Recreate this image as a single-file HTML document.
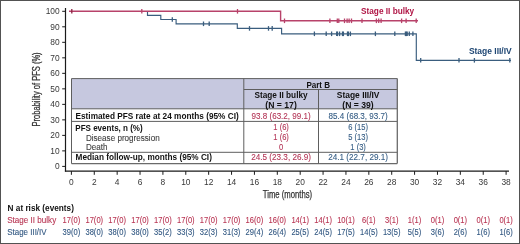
<!DOCTYPE html>
<html><head><meta charset="utf-8"><style>
html,body{margin:0;padding:0;background:#fff;}
body{width:520px;height:244px;overflow:hidden;}
svg{display:block;will-change:transform;}
text{font-family:"Liberation Sans",sans-serif;}
.tk{font-size:8.4px;fill:#383838;}
.lb{font-size:8.6px;font-weight:bold;}
.tb{font-size:8.5px;font-weight:bold;fill:#111;}
.tr{font-size:8.4px;fill:#222;}
.ax{font-size:10px;fill:#333;stroke:#333;stroke-width:0.25px;}
.rb{font-size:8.6px;font-weight:bold;fill:#111;}
.rr{font-size:8.4px;fill:#222;}
</style></head><body>
<svg width="520" height="244" viewBox="0 0 520 244">
<rect x="0.5" y="0.5" width="519" height="243" fill="none" stroke="#525252" stroke-width="1"/>
<rect x="71.5" y="78.6" width="325.8" height="30.200000000000003" fill="#c6c8df"/>
<line x1="71.5" y1="78.6" x2="397.3" y2="78.6" stroke="#5e5e5e" stroke-width="1"/>
<line x1="243.8" y1="89.5" x2="397.3" y2="89.5" stroke="#5e5e5e" stroke-width="1"/>
<line x1="71.5" y1="108.8" x2="397.3" y2="108.8" stroke="#5e5e5e" stroke-width="1"/>
<line x1="71.5" y1="121.4" x2="397.3" y2="121.4" stroke="#5e5e5e" stroke-width="1"/>
<line x1="71.5" y1="152.3" x2="397.3" y2="152.3" stroke="#5e5e5e" stroke-width="1"/>
<line x1="71.5" y1="163.6" x2="397.3" y2="163.6" stroke="#6a6a6a" stroke-width="1.3"/>
<line x1="71.5" y1="78.6" x2="71.5" y2="163.6" stroke="#5e5e5e" stroke-width="1"/>
<line x1="397.3" y1="78.6" x2="397.3" y2="163.6" stroke="#6a6a6a" stroke-width="1.3"/>
<line x1="243.8" y1="78.6" x2="243.8" y2="163.6" stroke="#5e5e5e" stroke-width="1"/>
<line x1="318.5" y1="89.5" x2="318.5" y2="163.6" stroke="#5e5e5e" stroke-width="1"/>
<line x1="65.5" y1="8" x2="65.5" y2="171.6" stroke="#1a1a1a" stroke-width="1.2"/>
<line x1="64.9" y1="171.1" x2="509" y2="171.1" stroke="#1a1a1a" stroke-width="1.2"/>
<line x1="62.2" y1="166.40" x2="65.5" y2="166.40" stroke="#1a1a1a" stroke-width="1"/>
<text x="59.7" y="169.30" text-anchor="end" class="tk">0</text>
<line x1="62.2" y1="150.89" x2="65.5" y2="150.89" stroke="#1a1a1a" stroke-width="1"/>
<text x="59.7" y="153.79" text-anchor="end" class="tk">10</text>
<line x1="62.2" y1="135.38" x2="65.5" y2="135.38" stroke="#1a1a1a" stroke-width="1"/>
<text x="59.7" y="138.28" text-anchor="end" class="tk">20</text>
<line x1="62.2" y1="119.87" x2="65.5" y2="119.87" stroke="#1a1a1a" stroke-width="1"/>
<text x="59.7" y="122.77" text-anchor="end" class="tk">30</text>
<line x1="62.2" y1="104.36" x2="65.5" y2="104.36" stroke="#1a1a1a" stroke-width="1"/>
<text x="59.7" y="107.26" text-anchor="end" class="tk">40</text>
<line x1="62.2" y1="88.85" x2="65.5" y2="88.85" stroke="#1a1a1a" stroke-width="1"/>
<text x="59.7" y="91.75" text-anchor="end" class="tk">50</text>
<line x1="62.2" y1="73.34" x2="65.5" y2="73.34" stroke="#1a1a1a" stroke-width="1"/>
<text x="59.7" y="76.24" text-anchor="end" class="tk">60</text>
<line x1="62.2" y1="57.83" x2="65.5" y2="57.83" stroke="#1a1a1a" stroke-width="1"/>
<text x="59.7" y="60.73" text-anchor="end" class="tk">70</text>
<line x1="62.2" y1="42.32" x2="65.5" y2="42.32" stroke="#1a1a1a" stroke-width="1"/>
<text x="59.7" y="45.22" text-anchor="end" class="tk">80</text>
<line x1="62.2" y1="26.81" x2="65.5" y2="26.81" stroke="#1a1a1a" stroke-width="1"/>
<text x="59.7" y="29.71" text-anchor="end" class="tk">90</text>
<line x1="62.2" y1="11.30" x2="65.5" y2="11.30" stroke="#1a1a1a" stroke-width="1"/>
<text x="59.7" y="14.20" text-anchor="end" class="tk">100</text>
<line x1="71.40" y1="171.1" x2="71.40" y2="174.8" stroke="#1a1a1a" stroke-width="1"/>
<text x="71.40" y="184.9" text-anchor="middle" class="tk">0</text>
<line x1="94.28" y1="171.1" x2="94.28" y2="174.8" stroke="#1a1a1a" stroke-width="1"/>
<text x="94.28" y="184.9" text-anchor="middle" class="tk">2</text>
<line x1="117.16" y1="171.1" x2="117.16" y2="174.8" stroke="#1a1a1a" stroke-width="1"/>
<text x="117.16" y="184.9" text-anchor="middle" class="tk">4</text>
<line x1="140.04" y1="171.1" x2="140.04" y2="174.8" stroke="#1a1a1a" stroke-width="1"/>
<text x="140.04" y="184.9" text-anchor="middle" class="tk">6</text>
<line x1="162.92" y1="171.1" x2="162.92" y2="174.8" stroke="#1a1a1a" stroke-width="1"/>
<text x="162.92" y="184.9" text-anchor="middle" class="tk">8</text>
<line x1="185.79" y1="171.1" x2="185.79" y2="174.8" stroke="#1a1a1a" stroke-width="1"/>
<text x="185.79" y="184.9" text-anchor="middle" class="tk">10</text>
<line x1="208.67" y1="171.1" x2="208.67" y2="174.8" stroke="#1a1a1a" stroke-width="1"/>
<text x="208.67" y="184.9" text-anchor="middle" class="tk">12</text>
<line x1="231.55" y1="171.1" x2="231.55" y2="174.8" stroke="#1a1a1a" stroke-width="1"/>
<text x="231.55" y="184.9" text-anchor="middle" class="tk">14</text>
<line x1="254.43" y1="171.1" x2="254.43" y2="174.8" stroke="#1a1a1a" stroke-width="1"/>
<text x="254.43" y="184.9" text-anchor="middle" class="tk">16</text>
<line x1="277.31" y1="171.1" x2="277.31" y2="174.8" stroke="#1a1a1a" stroke-width="1"/>
<text x="277.31" y="184.9" text-anchor="middle" class="tk">18</text>
<line x1="300.19" y1="171.1" x2="300.19" y2="174.8" stroke="#1a1a1a" stroke-width="1"/>
<text x="300.19" y="184.9" text-anchor="middle" class="tk">20</text>
<line x1="323.07" y1="171.1" x2="323.07" y2="174.8" stroke="#1a1a1a" stroke-width="1"/>
<text x="323.07" y="184.9" text-anchor="middle" class="tk">22</text>
<line x1="345.95" y1="171.1" x2="345.95" y2="174.8" stroke="#1a1a1a" stroke-width="1"/>
<text x="345.95" y="184.9" text-anchor="middle" class="tk">24</text>
<line x1="368.83" y1="171.1" x2="368.83" y2="174.8" stroke="#1a1a1a" stroke-width="1"/>
<text x="368.83" y="184.9" text-anchor="middle" class="tk">26</text>
<line x1="391.71" y1="171.1" x2="391.71" y2="174.8" stroke="#1a1a1a" stroke-width="1"/>
<text x="391.71" y="184.9" text-anchor="middle" class="tk">28</text>
<line x1="414.58" y1="171.1" x2="414.58" y2="174.8" stroke="#1a1a1a" stroke-width="1"/>
<text x="414.58" y="184.9" text-anchor="middle" class="tk">30</text>
<line x1="437.46" y1="171.1" x2="437.46" y2="174.8" stroke="#1a1a1a" stroke-width="1"/>
<text x="437.46" y="184.9" text-anchor="middle" class="tk">32</text>
<line x1="460.34" y1="171.1" x2="460.34" y2="174.8" stroke="#1a1a1a" stroke-width="1"/>
<text x="460.34" y="184.9" text-anchor="middle" class="tk">34</text>
<line x1="483.22" y1="171.1" x2="483.22" y2="174.8" stroke="#1a1a1a" stroke-width="1"/>
<text x="483.22" y="184.9" text-anchor="middle" class="tk">36</text>
<line x1="506.10" y1="171.1" x2="506.10" y2="174.8" stroke="#1a1a1a" stroke-width="1"/>
<text x="506.10" y="184.9" text-anchor="middle" class="tk">38</text>
<path d="M147.5 11.2 V15.4 H160.8 V19.5 H176.1 V23.8 H237.3 V28.4 H281.6 V33.8 H416.3 V60.3 H511" fill="none" stroke="#3a5d7e" stroke-width="1.15"/>
<line x1="172.3" y1="17.20" x2="172.3" y2="21.80" stroke="#3a5d7e" stroke-width="1.3"/>
<line x1="203.5" y1="21.50" x2="203.5" y2="26.10" stroke="#3a5d7e" stroke-width="1.3"/>
<line x1="209.2" y1="21.50" x2="209.2" y2="26.10" stroke="#3a5d7e" stroke-width="1.3"/>
<line x1="249.5" y1="26.10" x2="249.5" y2="30.70" stroke="#3a5d7e" stroke-width="1.3"/>
<line x1="268.5" y1="26.10" x2="268.5" y2="30.70" stroke="#3a5d7e" stroke-width="1.3"/>
<line x1="272.2" y1="26.10" x2="272.2" y2="30.70" stroke="#3a5d7e" stroke-width="1.3"/>
<line x1="314.4" y1="31.50" x2="314.4" y2="36.10" stroke="#3a5d7e" stroke-width="1.3"/>
<line x1="326.2" y1="31.50" x2="326.2" y2="36.10" stroke="#3a5d7e" stroke-width="1.3"/>
<line x1="331.6" y1="31.50" x2="331.6" y2="36.10" stroke="#3a5d7e" stroke-width="1.3"/>
<line x1="336.7" y1="31.50" x2="336.7" y2="36.10" stroke="#3a5d7e" stroke-width="1.3"/>
<line x1="337.5" y1="31.50" x2="337.5" y2="36.10" stroke="#3a5d7e" stroke-width="1.3"/>
<line x1="339.6" y1="31.50" x2="339.6" y2="36.10" stroke="#3a5d7e" stroke-width="1.3"/>
<line x1="342.5" y1="31.50" x2="342.5" y2="36.10" stroke="#3a5d7e" stroke-width="1.3"/>
<line x1="343.4" y1="31.50" x2="343.4" y2="36.10" stroke="#3a5d7e" stroke-width="1.3"/>
<line x1="347.5" y1="31.50" x2="347.5" y2="36.10" stroke="#3a5d7e" stroke-width="1.3"/>
<line x1="348.4" y1="31.50" x2="348.4" y2="36.10" stroke="#3a5d7e" stroke-width="1.3"/>
<line x1="350.4" y1="31.50" x2="350.4" y2="36.10" stroke="#3a5d7e" stroke-width="1.3"/>
<line x1="375.4" y1="31.50" x2="375.4" y2="36.10" stroke="#3a5d7e" stroke-width="1.3"/>
<line x1="394.8" y1="31.50" x2="394.8" y2="36.10" stroke="#3a5d7e" stroke-width="1.3"/>
<line x1="405.4" y1="31.50" x2="405.4" y2="36.10" stroke="#3a5d7e" stroke-width="1.3"/>
<line x1="406.4" y1="31.50" x2="406.4" y2="36.10" stroke="#3a5d7e" stroke-width="1.3"/>
<line x1="407.2" y1="31.50" x2="407.2" y2="36.10" stroke="#3a5d7e" stroke-width="1.3"/>
<line x1="409.3" y1="31.50" x2="409.3" y2="36.10" stroke="#3a5d7e" stroke-width="1.3"/>
<line x1="412.9" y1="31.50" x2="412.9" y2="36.10" stroke="#3a5d7e" stroke-width="1.3"/>
<line x1="420.7" y1="58.00" x2="420.7" y2="62.60" stroke="#3a5d7e" stroke-width="1.3"/>
<line x1="459" y1="58.00" x2="459" y2="62.60" stroke="#3a5d7e" stroke-width="1.3"/>
<line x1="474.4" y1="58.00" x2="474.4" y2="62.60" stroke="#3a5d7e" stroke-width="1.3"/>
<line x1="509.8" y1="58.00" x2="509.8" y2="62.60" stroke="#3a5d7e" stroke-width="1.3"/>
<path d="M69 11.3 H280.6 V20.8 H418" fill="none" stroke="#b8426a" stroke-width="1.4"/>
<line x1="71.8" y1="9.00" x2="71.8" y2="13.60" stroke="#8a2040" stroke-width="1.3"/>
<line x1="141.8" y1="9.00" x2="141.8" y2="13.60" stroke="#b8426a" stroke-width="1.3"/>
<line x1="237.5" y1="9.00" x2="237.5" y2="13.60" stroke="#b8426a" stroke-width="1.3"/>
<line x1="284.5" y1="18.50" x2="284.5" y2="23.10" stroke="#b8426a" stroke-width="1.3"/>
<line x1="329.9" y1="18.50" x2="329.9" y2="23.10" stroke="#b8426a" stroke-width="1.3"/>
<line x1="337.3" y1="18.50" x2="337.3" y2="23.10" stroke="#b8426a" stroke-width="1.3"/>
<line x1="338.8" y1="18.50" x2="338.8" y2="23.10" stroke="#b8426a" stroke-width="1.3"/>
<line x1="344.5" y1="18.50" x2="344.5" y2="23.10" stroke="#b8426a" stroke-width="1.3"/>
<line x1="347.1" y1="18.50" x2="347.1" y2="23.10" stroke="#b8426a" stroke-width="1.3"/>
<line x1="349.1" y1="18.50" x2="349.1" y2="23.10" stroke="#b8426a" stroke-width="1.3"/>
<line x1="351.5" y1="18.50" x2="351.5" y2="23.10" stroke="#b8426a" stroke-width="1.3"/>
<line x1="362" y1="18.50" x2="362" y2="23.10" stroke="#b8426a" stroke-width="1.3"/>
<line x1="376.4" y1="18.50" x2="376.4" y2="23.10" stroke="#b8426a" stroke-width="1.3"/>
<line x1="378.7" y1="18.50" x2="378.7" y2="23.10" stroke="#b8426a" stroke-width="1.3"/>
<line x1="381.1" y1="18.50" x2="381.1" y2="23.10" stroke="#b8426a" stroke-width="1.3"/>
<line x1="401.6" y1="18.50" x2="401.6" y2="23.10" stroke="#b8426a" stroke-width="1.3"/>
<line x1="406.1" y1="18.50" x2="406.1" y2="23.10" stroke="#b8426a" stroke-width="1.3"/>
<line x1="416.2" y1="18.50" x2="416.2" y2="23.10" stroke="#b8426a" stroke-width="1.3"/>
<text x="361" y="13.9" text-anchor="start" class="lb" textLength="53.2" lengthAdjust="spacingAndGlyphs" style="fill:#b01646">Stage II bulky</text>
<text x="468.9" y="54.4" text-anchor="start" class="lb" textLength="42.8" lengthAdjust="spacingAndGlyphs" style="fill:#1d4572">Stage III/IV</text>
<text x="75.5" y="118.6" text-anchor="start" class="tb" textLength="163.2" lengthAdjust="spacingAndGlyphs">Estimated PFS rate at 24 months (95% CI)</text>
<text x="75.3" y="130.9" text-anchor="start" class="tb" textLength="67.4" lengthAdjust="spacingAndGlyphs">PFS events, n (%)</text>
<text x="85.9" y="140.9" text-anchor="start" class="tr" textLength="73.8" lengthAdjust="spacingAndGlyphs" style="fill:#3d3d3d;stroke:#3d3d3d;stroke-width:0.1px">Disease progression</text>
<text x="85.9" y="150.2" text-anchor="start" class="tr" textLength="21.6" lengthAdjust="spacingAndGlyphs" style="fill:#3d3d3d;stroke:#3d3d3d;stroke-width:0.1px">Death</text>
<text x="75.6" y="160.0" text-anchor="start" class="tb" textLength="136.3" lengthAdjust="spacingAndGlyphs">Median follow-up, months (95% CI)</text>
<text x="306.4" y="88.0" text-anchor="start" class="tb" textLength="23.7" lengthAdjust="spacingAndGlyphs">Part B</text>
<text x="254.5" y="98.2" text-anchor="start" class="tb" textLength="53.1" lengthAdjust="spacingAndGlyphs">Stage II bulky</text>
<text x="265.3" y="107.9" text-anchor="start" class="tb" textLength="31.5" lengthAdjust="spacingAndGlyphs">(N = 17)</text>
<text x="336.8" y="98.2" text-anchor="start" class="tb" textLength="42.7" lengthAdjust="spacingAndGlyphs">Stage III/IV</text>
<text x="342.3" y="107.9" text-anchor="start" class="tb" textLength="31.4" lengthAdjust="spacingAndGlyphs">(N = 39)</text>
<text transform="translate(281.1 119.0) scale(0.96 1)" text-anchor="middle" class="tr" style="fill:#b33556;stroke:#b33556;stroke-width:0.1px">93.8 (63.2, 99.1)</text>
<text transform="translate(358.1 119.0) scale(0.96 1)" text-anchor="middle" class="tr" style="fill:#345c84;stroke:#345c84;stroke-width:0.1px">85.4 (68.3, 93.7)</text>
<text transform="translate(281.1 130.3) scale(0.9 1)" text-anchor="middle" class="tr" style="fill:#b33556;stroke:#b33556;stroke-width:0.1px">1 (6)</text>
<text transform="translate(358.1 130.3) scale(0.9 1)" text-anchor="middle" class="tr" style="fill:#345c84;stroke:#345c84;stroke-width:0.1px">6 (15)</text>
<text transform="translate(281.1 140.2) scale(0.9 1)" text-anchor="middle" class="tr" style="fill:#b33556;stroke:#b33556;stroke-width:0.1px">1 (6)</text>
<text transform="translate(358.1 140.2) scale(0.9 1)" text-anchor="middle" class="tr" style="fill:#345c84;stroke:#345c84;stroke-width:0.1px">5 (13)</text>
<text transform="translate(281.1 150.1) scale(0.9 1)" text-anchor="middle" class="tr" style="fill:#b33556;stroke:#b33556;stroke-width:0.1px">0</text>
<text transform="translate(358.1 150.1) scale(0.9 1)" text-anchor="middle" class="tr" style="fill:#345c84;stroke:#345c84;stroke-width:0.1px">1 (3)</text>
<text transform="translate(281.1 160.2) scale(0.97 1)" text-anchor="middle" class="tr" style="fill:#b33556;stroke:#b33556;stroke-width:0.1px">24.5 (23.3, 26.9)</text>
<text transform="translate(358.1 160.2) scale(0.97 1)" text-anchor="middle" class="tr" style="fill:#345c84;stroke:#345c84;stroke-width:0.1px">24.1 (22.7, 29.1)</text>
<text x="287.5" y="198.1" text-anchor="middle" class="ax" textLength="49.4" lengthAdjust="spacingAndGlyphs">Time (months)</text>
<text transform="translate(40.2 89.4) rotate(-90)" x="0" y="0" text-anchor="middle" class="ax" textLength="74" lengthAdjust="spacingAndGlyphs">Probability of PFS (%)</text>
<text x="7.6" y="210.9" text-anchor="start" class="rb" textLength="66.3" lengthAdjust="spacingAndGlyphs">N at risk (events)</text>
<text x="7.2" y="222.9" text-anchor="start" class="rr" textLength="49" lengthAdjust="spacingAndGlyphs" style="fill:#b83452;stroke:#b83452;stroke-width:0.1px">Stage II bulky</text>
<text x="7.2" y="234.8" text-anchor="start" class="rr" textLength="39.4" lengthAdjust="spacingAndGlyphs" style="fill:#305680;stroke:#305680;stroke-width:0.1px">Stage III/IV</text>
<text transform="translate(71.40 222.9) scale(0.9 1)" text-anchor="middle" class="rr" style="fill:#b83452;stroke:#b83452;stroke-width:0.1px">17(0)</text>
<text transform="translate(71.40 234.8) scale(0.9 1)" text-anchor="middle" class="rr" style="fill:#305680;stroke:#305680;stroke-width:0.1px">39(0)</text>
<text transform="translate(94.28 222.9) scale(0.9 1)" text-anchor="middle" class="rr" style="fill:#b83452;stroke:#b83452;stroke-width:0.1px">17(0)</text>
<text transform="translate(94.28 234.8) scale(0.9 1)" text-anchor="middle" class="rr" style="fill:#305680;stroke:#305680;stroke-width:0.1px">38(0)</text>
<text transform="translate(117.16 222.9) scale(0.9 1)" text-anchor="middle" class="rr" style="fill:#b83452;stroke:#b83452;stroke-width:0.1px">17(0)</text>
<text transform="translate(117.16 234.8) scale(0.9 1)" text-anchor="middle" class="rr" style="fill:#305680;stroke:#305680;stroke-width:0.1px">38(0)</text>
<text transform="translate(140.04 222.9) scale(0.9 1)" text-anchor="middle" class="rr" style="fill:#b83452;stroke:#b83452;stroke-width:0.1px">17(0)</text>
<text transform="translate(140.04 234.8) scale(0.9 1)" text-anchor="middle" class="rr" style="fill:#305680;stroke:#305680;stroke-width:0.1px">38(0)</text>
<text transform="translate(162.92 222.9) scale(0.9 1)" text-anchor="middle" class="rr" style="fill:#b83452;stroke:#b83452;stroke-width:0.1px">17(0)</text>
<text transform="translate(162.92 234.8) scale(0.9 1)" text-anchor="middle" class="rr" style="fill:#305680;stroke:#305680;stroke-width:0.1px">35(2)</text>
<text transform="translate(185.79 222.9) scale(0.9 1)" text-anchor="middle" class="rr" style="fill:#b83452;stroke:#b83452;stroke-width:0.1px">17(0)</text>
<text transform="translate(185.79 234.8) scale(0.9 1)" text-anchor="middle" class="rr" style="fill:#305680;stroke:#305680;stroke-width:0.1px">33(3)</text>
<text transform="translate(208.67 222.9) scale(0.9 1)" text-anchor="middle" class="rr" style="fill:#b83452;stroke:#b83452;stroke-width:0.1px">17(0)</text>
<text transform="translate(208.67 234.8) scale(0.9 1)" text-anchor="middle" class="rr" style="fill:#305680;stroke:#305680;stroke-width:0.1px">32(3)</text>
<text transform="translate(231.55 222.9) scale(0.9 1)" text-anchor="middle" class="rr" style="fill:#b83452;stroke:#b83452;stroke-width:0.1px">17(0)</text>
<text transform="translate(231.55 234.8) scale(0.9 1)" text-anchor="middle" class="rr" style="fill:#305680;stroke:#305680;stroke-width:0.1px">31(3)</text>
<text transform="translate(254.43 222.9) scale(0.9 1)" text-anchor="middle" class="rr" style="fill:#b83452;stroke:#b83452;stroke-width:0.1px">16(0)</text>
<text transform="translate(254.43 234.8) scale(0.9 1)" text-anchor="middle" class="rr" style="fill:#305680;stroke:#305680;stroke-width:0.1px">29(4)</text>
<text transform="translate(277.31 222.9) scale(0.9 1)" text-anchor="middle" class="rr" style="fill:#b83452;stroke:#b83452;stroke-width:0.1px">16(0)</text>
<text transform="translate(277.31 234.8) scale(0.9 1)" text-anchor="middle" class="rr" style="fill:#305680;stroke:#305680;stroke-width:0.1px">26(4)</text>
<text transform="translate(300.19 222.9) scale(0.9 1)" text-anchor="middle" class="rr" style="fill:#b83452;stroke:#b83452;stroke-width:0.1px">14(1)</text>
<text transform="translate(300.19 234.8) scale(0.9 1)" text-anchor="middle" class="rr" style="fill:#305680;stroke:#305680;stroke-width:0.1px">25(5)</text>
<text transform="translate(323.07 222.9) scale(0.9 1)" text-anchor="middle" class="rr" style="fill:#b83452;stroke:#b83452;stroke-width:0.1px">14(1)</text>
<text transform="translate(323.07 234.8) scale(0.9 1)" text-anchor="middle" class="rr" style="fill:#305680;stroke:#305680;stroke-width:0.1px">24(5)</text>
<text transform="translate(345.95 222.9) scale(0.9 1)" text-anchor="middle" class="rr" style="fill:#b83452;stroke:#b83452;stroke-width:0.1px">10(1)</text>
<text transform="translate(345.95 234.8) scale(0.9 1)" text-anchor="middle" class="rr" style="fill:#305680;stroke:#305680;stroke-width:0.1px">17(5)</text>
<text transform="translate(368.83 222.9) scale(0.9 1)" text-anchor="middle" class="rr" style="fill:#b83452;stroke:#b83452;stroke-width:0.1px">6(1)</text>
<text transform="translate(368.83 234.8) scale(0.9 1)" text-anchor="middle" class="rr" style="fill:#305680;stroke:#305680;stroke-width:0.1px">14(5)</text>
<text transform="translate(391.71 222.9) scale(0.9 1)" text-anchor="middle" class="rr" style="fill:#b83452;stroke:#b83452;stroke-width:0.1px">3(1)</text>
<text transform="translate(391.71 234.8) scale(0.9 1)" text-anchor="middle" class="rr" style="fill:#305680;stroke:#305680;stroke-width:0.1px">13(5)</text>
<text transform="translate(414.58 222.9) scale(0.9 1)" text-anchor="middle" class="rr" style="fill:#b83452;stroke:#b83452;stroke-width:0.1px">1(1)</text>
<text transform="translate(414.58 234.8) scale(0.9 1)" text-anchor="middle" class="rr" style="fill:#305680;stroke:#305680;stroke-width:0.1px">5(5)</text>
<text transform="translate(437.46 222.9) scale(0.9 1)" text-anchor="middle" class="rr" style="fill:#b83452;stroke:#b83452;stroke-width:0.1px">0(1)</text>
<text transform="translate(437.46 234.8) scale(0.9 1)" text-anchor="middle" class="rr" style="fill:#305680;stroke:#305680;stroke-width:0.1px">3(6)</text>
<text transform="translate(460.34 222.9) scale(0.9 1)" text-anchor="middle" class="rr" style="fill:#b83452;stroke:#b83452;stroke-width:0.1px">0(1)</text>
<text transform="translate(460.34 234.8) scale(0.9 1)" text-anchor="middle" class="rr" style="fill:#305680;stroke:#305680;stroke-width:0.1px">2(6)</text>
<text transform="translate(483.22 222.9) scale(0.9 1)" text-anchor="middle" class="rr" style="fill:#b83452;stroke:#b83452;stroke-width:0.1px">0(1)</text>
<text transform="translate(483.22 234.8) scale(0.9 1)" text-anchor="middle" class="rr" style="fill:#305680;stroke:#305680;stroke-width:0.1px">1(6)</text>
<text transform="translate(506.10 222.9) scale(0.9 1)" text-anchor="middle" class="rr" style="fill:#b83452;stroke:#b83452;stroke-width:0.1px">0(1)</text>
<text transform="translate(506.10 234.8) scale(0.9 1)" text-anchor="middle" class="rr" style="fill:#305680;stroke:#305680;stroke-width:0.1px">1(6)</text>
</svg>
</body></html>
